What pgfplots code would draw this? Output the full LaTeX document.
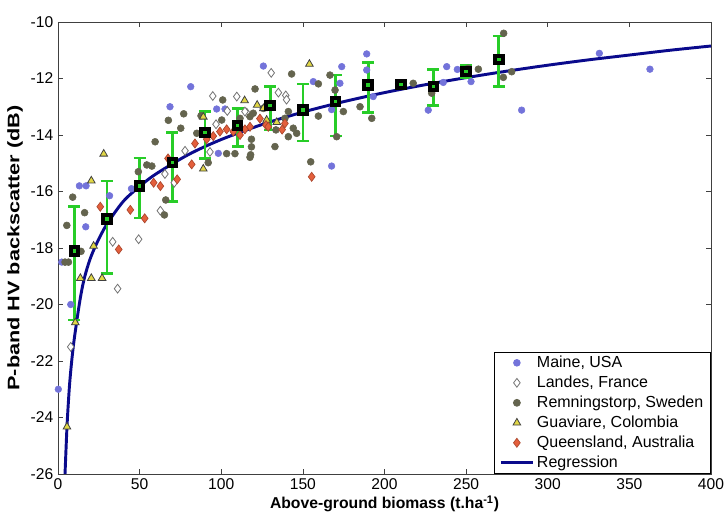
\documentclass[border=0pt]{standalone}
\usepackage{fontspec}
\setmainfont{Liberation Sans}
\newfontfamily\ylabfont{Liberation Sans}[FakeStretch=1.3]
\usepackage{pgfplots}
\pgfplotsset{compat=1.18}

\definecolor{maine}{RGB}{115,115,218}
\definecolor{swe}{RGB}{100,100,78}
\definecolor{guav}{RGB}{225,215,70}
\definecolor{qld}{RGB}{228,95,60}
\definecolor{reg}{RGB}{10,10,140}
\definecolor{errg}{RGB}{40,205,40}

\pgfplotstableread{
x y
0.2 -23.0
2.3 -18.5
7.8 -20.0
13.1 -15.8
17.2 -15.8
17.0 -17.25
31.6 -16.15
45 -15.9
68.6 -13.0
81.3 -12.29
97.2 -13.08
102.3 -13.08
98.2 -14.65
125.8 -11.56
156.4 -12.11
173.8 -11.58
172.7 -12.17
189.1 -11.13
189.1 -11.7
193.1 -12.64
167.6 -13.1
167.6 -15.1
238.1 -11.58
244.6 -11.68
253 -12.11
236 -12.14
226.8 -13.12
284 -13.12
331.6 -11.11
362.6 -11.67
}\maine

\pgfplotstableread{
x y
36.5 -19.44
7.8 -21.5
33.5 -17.78
49.4 -17.69
62.7 -16.68
65.5 -15.38
71.2 -15.69
77.8 -14.56
93.1 -14.6
96.8 -13.62
115.6 -13.21
94.8 -12.62
109.5 -12.64
114.5 -13.17
130.6 -11.8
135 -12.5
139.5 -12.6
103.7 -13.15
140 -12.75
}\landes

\pgfplotstableread{
x y
9 -16.2
5.4 -17.2
16.3 -16.75
14.1 -18.12
4.3 -18.5
6.4 -18.5
54.4 -15.06
57.5 -15.1
49.2 -15.3
59.5 -14.24
66 -16.3
65.2 -16.83
67.6 -13.48
75.2 -13.76
77 -13.25
85 -13.94
89 -13.94
92 -14.98
103.3 -14.66
108.4 -14.66
118.5 -14.15
118.5 -14.42
118 -14.7
132.9 -14.41
119.6 -13.23
100.3 -13.47
87.6 -13.32
100.9 -12.76
120.7 -12.37
125.8 -13.06
117.6 -13.35
111.5 -13.41
117.6 -14.79
141.1 -14.06
133.5 -13.82
139 -13.41
143.1 -11.84
166.6 -11.88
159.5 -12.19
141.1 -13.17
144.1 -13.76
146.2 -13.94
159.5 -13.33
174.8 -13.17
185 -13.0
192.2 -13.41
170.7 -14.06
154.8 -14.95
169.7 -12.41
217.6 -12.17
228.9 -12.52
251.3 -11.64
257.5 -11.67
272.8 -11.96
277.9 -11.76
273 -10.4
}\sweden

\pgfplotstableread{
x y
5.5 -24.33
10.6 -20.64
13.7 -19.07
20.4 -19.07
27 -19.07
20.4 -15.62
28 -14.67
21.8 -17.93
89 -13.36
89 -15.2
114.3 -12.78
122 -12.94
125.8 -13.06
127.8 -13.47
134 -13.55
154 -11.49
}\guaviare

\pgfplotstableread{
x y
25.9 -16.54
37.2 -18.05
44.3 -16.65
53.1 -16.95
58.6 -15.69
62.7 -15.81
73 -15.57
67.4 -14.83
81.9 -15.04
83.9 -14.3
91.1 -14.15
95.1 -14.04
99.2 -13.88
103.3 -13.8
107.4 -13.88
111.5 -14.0
114.5 -13.8
123.7 -13.42
127.4 -13.65
137.3 -13.81
117.6 -13.71
128.8 -13.71
139 -13.59
155.4 -15.48
}\queensland

\pgfplotstableread{
x y
4.3 -26
5 -25.0
5.7 -24.1
7 -22.9
8.4 -22.0
10 -21.2
13.3 -19.9
16 -19.1
19.6 -18.4
24 -17.8
30 -17.15
40 -16.35
50 -15.82
60 -15.38
80 -14.69
100 -14.16
125 -13.63
150 -13.19
175 -12.82
200 -12.5
225 -12.22
250 -11.97
275 -11.74
300 -11.53
325 -11.34
350 -11.17
375 -11.0
400 -10.85
}\regression

\pgfplotstableread{
x y ep em
10 -18.1 1.58 2.45
30 -16.98 1.35 1.92
50 -15.8 0.98 1.14
70 -14.97 1.06 1.39
90 -13.92 0.75 0.91
110 -13.67 0.61 0.74
130 -12.96 0.67 0.86
150 -13.12 0.93 1.09
170 -12.82 0.94 1.22
190 -12.23 0.79 0.98
210 -12.21 0 0
230 -12.29 0.61 0.67
250 -11.76 0.24 0.22
270 -11.32 0.82 0.97
}\means

\begin{document}
\begin{tikzpicture}
\begin{axis}[
  scale only axis, width=489.75pt, height=339pt,
  xmin=0, xmax=400, ymin=-26, ymax=-10,
  xtick={0,50,...,400}, ytick={-26,-24,...,-10},
  tick align=inside, major tick length=4pt,
  tick style={color=black!75, line width=0.5pt},
  axis line style={black!75, line width=0.6pt},
  ticklabel style={font=\fontsize{11.7}{14}\selectfont},
  /pgf/number format/assume math mode=true,
  xlabel={Above-ground biomass (t.ha\textsuperscript{-1})},
  ylabel={P-band HV backscatter (dB)},
  xlabel style={font=\bfseries\fontsize{11.8}{14}\selectfont, yshift=2.5pt},
  ylabel style={font=\ylabfont\bfseries\fontsize{12.5}{15}\selectfont, yshift=-1pt},
  legend cell align=left,
  legend style={at={(1,0)}, anchor=south east, draw=black, line width=0.6pt,
    font=\fontsize{12}{13.5}\selectfont, row sep=0.8pt, inner xsep=3.5pt, inner ysep=1pt},
  legend image code/.code={\draw[mark repeat=2,mark phase=2,#1] plot coordinates {(0cm,0cm) (0.42cm,0cm) (0.84cm,0cm)};},
]
\addplot[only marks, mark=*, mark size=2.5pt, mark options={draw=maine, fill=maine}] table {\maine};
\addlegendentry{Maine, USA}
\addplot[only marks, mark=diamond*, mark size=3.3pt, mark options={draw=black!55, fill=white, line width=0.6pt}] table {\landes};
\addlegendentry{Landes, France}
\addplot[only marks, mark=*, mark size=2.6pt, mark options={draw=swe, fill=swe}] table {\sweden};
\addlegendentry{Remningstorp, Sweden}
\addplot[only marks, mark=triangle*, mark size=3.3pt, mark options={draw=black!75, fill=guav, line width=0.6pt}] table {\guaviare};
\addlegendentry{Guaviare, Colombia}
\addplot[only marks, mark=diamond*, mark size=3.4pt, mark options={draw=qld!75!black, fill=qld, line width=0.5pt}] table {\queensland};
\addlegendentry{Queensland, Australia}
\addplot[reg, line width=2.2pt, smooth, no markers] table {\regression};
\addlegendentry{Regression}
\addplot[forget plot, only marks, mark=square*, mark size=2.8pt,
  mark options={draw=black, fill=errg, line width=3pt},
  error bars/.cd, y dir=both, y explicit,
  error bar style={errg, line width=2pt},
  error mark options={errg, line width=2pt, mark size=4.5pt, rotate=90}]
  table[y error plus=ep, y error minus=em] {\means};
\end{axis}
\pgfresetboundingbox
\path[use as bounding box] ([shift={(-43.5pt,-31.5pt)}]current axis.south west) rectangle ([shift={(9.75pt,16.5pt)}]current axis.north east);
\end{tikzpicture}
\end{document}
